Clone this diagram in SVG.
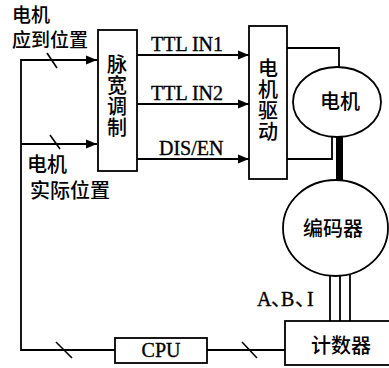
<svg xmlns="http://www.w3.org/2000/svg" width="389" height="368" viewBox="0 0 389 368">
<defs>
<marker id="arr" markerUnits="userSpaceOnUse" markerWidth="12" markerHeight="10" refX="11" refY="5" orient="auto">
<path d="M0,0.5 L11,5 L0,9.5 Z" fill="#000"/>
</marker>
<style>
.box{fill:#fff;stroke:#000;stroke-width:1.8}
.ln{fill:none;stroke:#000;stroke-width:1.8}
.tk{fill:none;stroke:#000;stroke-width:1.6}
.cj{font-family:"Noto Sans CJK SC","Noto Sans",sans-serif;font-size:20px;font-weight:500;fill:#000}
.sm{font-size:19px}
.lt{font-family:"Liberation Serif","Noto Sans CJK SC",serif;font-size:20px;fill:#000;stroke:#000;stroke-width:0.35}
.m{text-anchor:middle}
.v{writing-mode:tb;letter-spacing:1px}
</style>
</defs>
<rect width="389" height="368" fill="#fff"/>
<g id="connectors">
<path class="ln" d="M285,350 H207"/>
<path class="ln" d="M115,350 H21 V60 H97" marker-end="url(#arr)"/>
<path class="ln" d="M21,144 H97" marker-end="url(#arr)"/>
<path class="ln" d="M137,55 H249" marker-end="url(#arr)"/>
<path class="ln" d="M137,104 H249" marker-end="url(#arr)"/>
<path class="ln" d="M137,159 H249" marker-end="url(#arr)"/>
<path class="ln" d="M287,48 H339 V67"/>
<path class="ln" d="M287,159 H332 V136"/>
<rect x="336" y="136" width="7" height="45" fill="#000"/>
<path class="ln" d="M330,275 V321 M340,276 V321 M350,275 V321"/>
<path class="tk" d="M47,53 L57,68 M50,135 L60,149 M56,342 L72,358 M242,342 L257,358"/>
</g>
<g id="label-target">
<text class="cj sm"><tspan x="12" y="22">电机</tspan><tspan x="12" y="47">应到位置</tspan></text>
</g>
<g id="label-actual">
<text class="cj"><tspan x="27" y="172">电机</tspan><tspan x="30" y="198">实际位置</tspan></text>
</g>
<g id="pwm">
<rect class="box" x="98" y="30" width="39" height="141"/>
<text class="cj v" x="117" y="54">脉宽调制</text>
</g>
<g id="signals">
<text class="lt" x="151" y="51">TTL IN1</text>
<text class="lt" x="151" y="100">TTL IN2</text>
<text class="lt" x="159" y="155">DIS/EN</text>
</g>
<g id="driver">
<rect class="box" x="249" y="26" width="38" height="153"/>
<text class="cj v" x="268" y="58">电机驱动</text>
</g>
<g id="motor">
<ellipse class="box" cx="337" cy="102" rx="44" ry="35"/>
<text class="cj m" x="340" y="109">电机</text>
</g>
<g id="encoder">
<ellipse class="box" cx="335.5" cy="228" rx="52.5" ry="48"/>
<text class="cj m" x="333" y="236">编码器</text>
</g>
<g id="abi">
<text class="lt" x="257 271 281 295 307" y="306">A、B、I</text>
</g>
<g id="counter">
<rect class="box" x="285" y="321" width="108" height="44"/>
<text class="cj m" x="341" y="353">计数器</text>
</g>
<g id="cpu">
<rect class="box" x="115" y="338" width="92" height="25"/>
<text class="lt m" x="161" y="357">CPU</text>
</g>
</svg>
